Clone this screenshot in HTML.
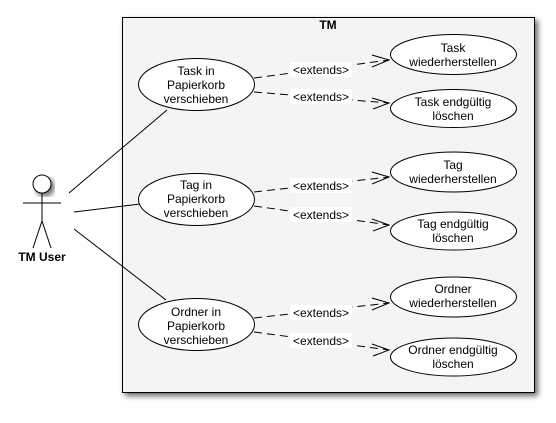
<!DOCTYPE html>
<html><head><meta charset="utf-8"><style>
body{margin:0;background:#fff;width:556px;height:418px;overflow:hidden}
text{font-family:"Liberation Sans",sans-serif;font-size:12px;fill:#000}
</style></head><body>
<svg width="556" height="418" xmlns="http://www.w3.org/2000/svg">
<defs>
<filter id="sh" x="-10%" y="-10%" width="130%" height="130%"><feGaussianBlur in="SourceAlpha" stdDeviation="3"/><feOffset dx="3" dy="3"/><feComponentTransfer><feFuncA type="linear" slope="0.6"/></feComponentTransfer><feMerge><feMergeNode/><feMergeNode in="SourceGraphic"/></feMerge></filter>
</defs>
<rect x="122.5" y="17.5" width="412" height="375" fill="#f4f4f4" stroke="#000" filter="url(#sh)"/>
<text x="328" y="29" text-anchor="middle" font-weight="bold" style="font-weight:bold">TM</text>

<!-- actor -->
<circle cx="42" cy="184" r="9" fill="#fff" stroke="#000" filter="url(#sh)"/>
<g stroke="#000" fill="none">
<line x1="23" y1="203" x2="61" y2="203"/>
<line x1="42" y1="193" x2="42" y2="221"/>
<polyline points="33,248 42,221 51,248"/>
<line x1="69" y1="193" x2="167" y2="110"/>
<line x1="74" y1="212" x2="140" y2="204"/>
<line x1="74" y1="229" x2="166" y2="300"/>
</g>
<text x="42" y="261" text-anchor="middle" style="font-weight:bold">TM User</text>

<g id="grp"></g>
<!-- groups -->
<g>
<g stroke="#000" fill="none" stroke-dasharray="8,5">
<line x1="254" y1="78" x2="389" y2="60"/><line x1="254" y1="92" x2="389" y2="103"/>
<line x1="254" y1="192" x2="389" y2="177"/><line x1="254" y1="206" x2="389" y2="225"/>
<line x1="254" y1="318" x2="389" y2="303"/><line x1="254" y1="332" x2="389" y2="350"/>
</g>
<g stroke="#000" fill="none">
<polyline points="372,55 389,60 372,67"/><polyline points="372,98 389,103 373,109"/>
<polyline points="372,172 389,177 372,184"/><polyline points="372,219 389,225 373,231"/>
<polyline points="372,298 389,303 372,310"/><polyline points="372,344 389,350 373,356"/>
</g>
<g fill="#fff">
<rect x="290" y="62" width="62" height="15"/><rect x="290" y="89" width="62" height="15"/>
<rect x="290" y="178" width="62" height="15"/><rect x="290" y="207" width="62" height="15"/>
<rect x="290" y="305" width="62" height="15"/><rect x="290" y="333" width="62" height="15"/>
</g>
<g text-anchor="middle">
<text x="321" y="74">&lt;extends&gt;</text><text x="321" y="101">&lt;extends&gt;</text>
<text x="321" y="190">&lt;extends&gt;</text><text x="321" y="219">&lt;extends&gt;</text>
<text x="321" y="317">&lt;extends&gt;</text><text x="321" y="345">&lt;extends&gt;</text>
</g>
<g fill="#fff" stroke="#000">
<ellipse cx="196.5" cy="84.5" rx="58" ry="26"/>
<ellipse cx="196.5" cy="199.5" rx="58" ry="26"/>
<ellipse cx="196.5" cy="324.5" rx="58" ry="26"/>
<ellipse cx="453.5" cy="54.5" rx="63" ry="20"/>
<ellipse cx="453.5" cy="108.5" rx="63" ry="19"/>
<ellipse cx="453.5" cy="172" rx="63" ry="20"/>
<ellipse cx="453.5" cy="231" rx="63" ry="19"/>
<ellipse cx="453.5" cy="297" rx="63" ry="20"/>
<ellipse cx="453.5" cy="357" rx="63" ry="19"/>
</g>
<g text-anchor="middle">
<text x="196" y="75">Task in</text><text x="196" y="89">Papierkorb</text><text x="196" y="103">verschieben</text>
<text x="196" y="189">Tag in</text><text x="196" y="203">Papierkorb</text><text x="196" y="217">verschieben</text>
<text x="196" y="316">Ordner in</text><text x="196" y="330">Papierkorb</text><text x="196" y="344">verschieben</text>
<text x="453" y="52">Task</text><text x="453" y="66">wiederherstellen</text>
<text x="453" y="106">Task endgültig</text><text x="453" y="120">löschen</text>
<text x="453" y="169">Tag</text><text x="453" y="183">wiederherstellen</text>
<text x="453" y="228">Tag endgültig</text><text x="453" y="242">löschen</text>
<text x="453" y="293">Ordner</text><text x="453" y="307">wiederherstellen</text>
<text x="453" y="354">Ordner endgültig</text><text x="453" y="368">löschen</text>
</g>
</g>
</svg>
</body></html>
